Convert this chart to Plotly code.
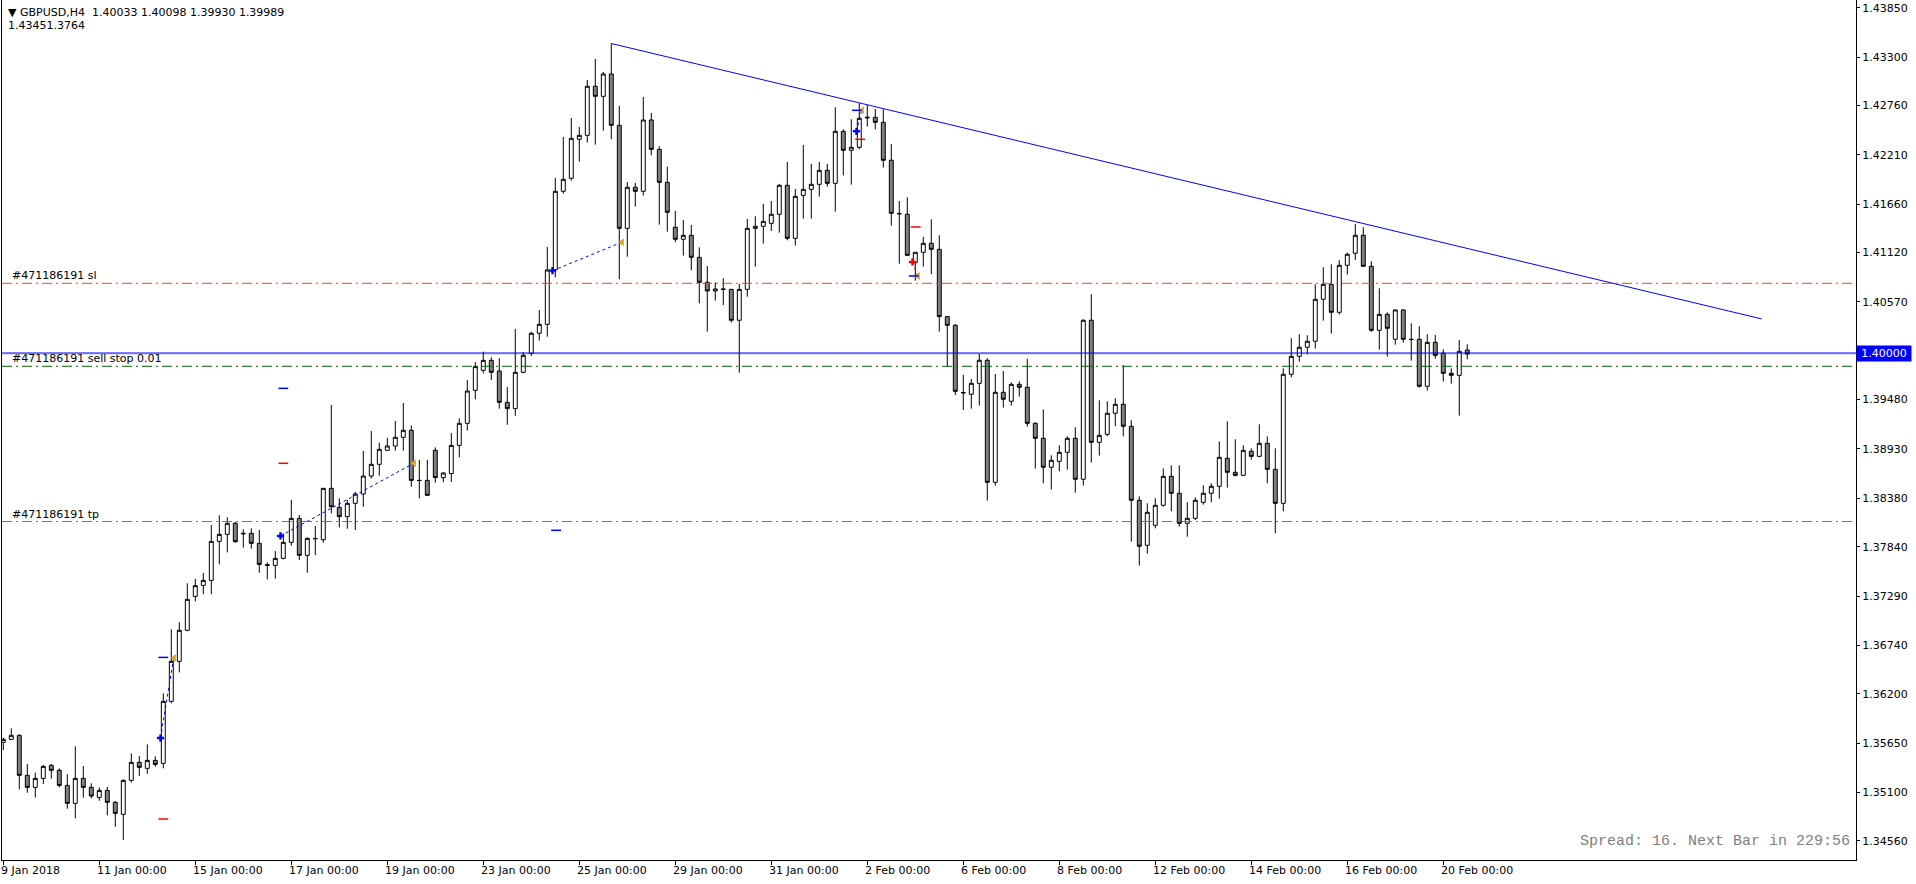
import plotly.graph_objects as go

# ---------------- data ----------------
bars = list(range(184))

opens = [1.35659,1.35692,1.35737,1.35291,1.35157,1.35257,1.35402,1.35347,1.35179,1.34979,
1.35257,1.35157,1.35045,1.35123,1.34990,1.34856,1.35235,1.35436,1.35369,1.35458,
1.35425,1.36116,1.36562,1.36908,1.37287,1.37409,1.37465,1.37900,1.37978,1.38101,
1.37990,1.37989,1.37878,1.37640,1.37632,1.37710,1.37889,1.38156,1.37744,1.37928,
1.37918,1.38491,1.38279,1.38175,1.38324,1.38428,1.38628,1.38759,1.38915,1.38963,
1.39060,1.39138,1.38580,1.38580,1.38915,1.38610,1.38655,1.38970,1.39216,1.39584,
1.39807,1.39918,1.39799,1.39450,1.39380,1.39785,1.39997,1.40220,1.40320,1.40926,
1.41803,1.41948,1.42383,1.42427,1.42974,1.42862,1.43111,1.42539,1.41390,1.41848,
1.41803,1.42598,1.42271,1.41903,1.41402,1.41268,1.41312,1.41067,1.40788,1.40692,
1.40714,1.40710,1.40365,1.40710,1.41390,1.41413,1.41446,1.41547,1.41870,1.41279,
1.41758,1.41825,1.41881,1.42037,1.41892,1.42472,1.42260,1.42294,1.42620,1.42628,
1.42572,1.42149,1.41556,1.41547,1.41008,1.41123,1.41223,1.41156,1.40406,1.40309,
1.39560,1.39540,1.39662,1.39919,1.38558,1.39562,1.39462,1.39651,1.39618,1.39216,
1.39049,1.38726,1.38792,1.38893,1.39049,1.38592,1.40365,1.39004,1.39093,1.39328,
1.39428,1.39183,1.38358,1.37856,1.38079,1.38302,1.38625,1.38436,1.38101,1.38157,
1.38335,1.38436,1.38514,1.38826,1.38670,1.38636,1.38904,1.38848,1.38993,1.38703,
1.38324,1.39763,1.39963,1.40064,1.40131,1.40599,1.40766,1.40454,1.40978,1.41112,
1.41313,1.40967,1.40253,1.40431,1.40153,1.40480,1.40153,1.40153,1.39629,1.40119,
1.39997,1.39774,1.39751,1.40033]

highs = [1.35709,1.35815,1.35748,1.35417,1.35321,1.35406,1.35417,1.35369,1.35302,1.35614,
1.35395,1.35202,1.35157,1.35164,1.35005,1.35246,1.35536,1.35506,1.35636,1.35503,
1.36205,1.36919,1.36997,1.37432,1.37480,1.37547,1.38082,1.38190,1.38168,1.38116,
1.38034,1.38045,1.38026,1.37666,1.37792,1.37989,1.38361,1.38194,1.37945,1.38071,
1.38495,1.39420,1.38379,1.38361,1.38454,1.38907,1.39130,1.39000,1.39056,1.39242,
1.39442,1.39193,1.38807,1.38807,1.38948,1.38670,1.39108,1.39271,1.39699,1.39900,
1.40015,1.39952,1.39941,1.39620,1.40268,1.40008,1.40238,1.40480,1.41182,1.41952,
1.42409,1.42621,1.42520,1.43044,1.43279,1.43134,1.43451,1.42755,1.41907,1.41896,
1.42855,1.42677,1.42305,1.42078,1.41584,1.41483,1.41428,1.41178,1.40970,1.40788,
1.40833,1.40715,1.40770,1.41495,1.41524,1.41662,1.41695,1.41885,1.42130,1.41829,
1.42320,1.42108,1.42130,1.42108,1.42740,1.42494,1.42606,1.42784,1.42766,1.42721,
1.42717,1.42331,1.41695,1.41736,1.41125,1.41294,1.41491,1.41312,1.40410,1.40324,
1.39755,1.39711,1.39989,1.39941,1.39766,1.39800,1.39673,1.39685,1.39934,1.39227,
1.39372,1.38859,1.38971,1.39071,1.39172,1.40376,1.40655,1.39473,1.39462,1.39495,
1.39863,1.39250,1.38402,1.38324,1.38380,1.38714,1.38748,1.38748,1.38335,1.38391,
1.38525,1.38547,1.39015,1.39238,1.39038,1.38971,1.38937,1.39205,1.39071,1.38937,
1.39830,1.40164,1.40209,1.40198,1.40766,1.40956,1.40989,1.41034,1.41119,1.41439,
1.41402,1.41023,1.40722,1.40454,1.40487,1.40487,1.40331,1.40298,1.40209,1.40201,
1.40041,1.39829,1.40145,1.40098]

lows = [1.35573,1.35692,1.35135,1.35097,1.35045,1.35194,1.35254,1.35157,1.34919,1.34811,
1.35042,1.35034,1.35008,1.34845,1.34718,1.34570,1.35209,1.35283,1.35309,1.35387,
1.35369,1.36094,1.36439,1.36897,1.37231,1.37309,1.37309,1.37644,1.37777,1.37885,
1.37829,1.37818,1.37550,1.37476,1.37484,1.37699,1.37852,1.37692,1.37550,1.37748,
1.37885,1.38212,1.38056,1.38041,1.38026,1.38286,1.38602,1.38632,1.38907,1.38911,
1.38911,1.38509,1.38379,1.38410,1.38554,1.38558,1.38562,1.38837,1.39134,1.39483,
1.39773,1.39699,1.39380,1.39200,1.39300,1.39774,1.39967,1.40138,1.40182,1.40844,
1.41777,1.41922,1.42134,1.42346,1.42323,1.42479,1.42383,1.40822,1.41074,1.41632,
1.41755,1.42204,1.41431,1.41353,1.41234,1.41086,1.40922,1.40554,1.40238,1.40584,
1.40535,1.40339,1.39781,1.40628,1.40963,1.41219,1.41361,1.41342,1.41257,1.41197,
1.41498,1.41498,1.41744,1.41855,1.41576,1.41980,1.41877,1.42271,1.42524,1.42494,
1.42067,1.41420,1.40996,1.41085,1.40807,1.40963,1.40878,1.40238,1.39848,1.39532,
1.39365,1.39380,1.39413,1.38354,1.38521,1.39391,1.39413,1.39514,1.39179,1.38711,
1.38547,1.38477,1.38681,1.38700,1.38443,1.38521,1.38778,1.38856,1.39071,1.39183,
1.39071,1.37897,1.37629,1.37763,1.38045,1.38287,1.38235,1.38064,1.37952,1.38138,
1.38309,1.38335,1.38376,1.38499,1.38625,1.38630,1.38811,1.38837,1.38547,1.37990,
1.38235,1.39729,1.39904,1.39986,1.40049,1.40361,1.40216,1.40428,1.40874,1.41037,
1.40960,1.40235,1.40038,1.39960,1.40093,1.40116,1.39915,1.39614,1.39580,1.39937,
1.39681,1.39659,1.39302,1.39930]

closes = [1.35692,1.35737,1.35291,1.35157,1.35257,1.35391,1.35347,1.35179,1.34979,1.35257,
1.35157,1.35060,1.35123,1.34990,1.34867,1.35235,1.35436,1.35380,1.35458,1.35413,
1.36116,1.36562,1.36908,1.37253,1.37406,1.37465,1.37900,1.37978,1.38101,1.37896,
1.37985,1.37878,1.37643,1.37632,1.37710,1.37889,1.38156,1.37744,1.37933,1.37932,
1.38491,1.38286,1.38175,1.38324,1.38428,1.38628,1.38759,1.38926,1.38963,1.39060,
1.39138,1.38580,1.38578,1.38413,1.38610,1.38662,1.38970,1.39216,1.39576,1.39848,
1.39918,1.39785,1.39450,1.39380,1.39785,1.39974,1.40220,1.40320,1.40926,1.41803,
1.41937,1.42394,1.42427,1.42974,1.42862,1.43111,1.42539,1.41390,1.41848,1.41803,
1.42598,1.42271,1.41903,1.41569,1.41268,1.41312,1.41067,1.40788,1.40692,1.40714,
1.40710,1.40365,1.40710,1.41390,1.41413,1.41468,1.41547,1.41870,1.41279,1.41747,
1.41825,1.41881,1.42037,1.41892,1.42472,1.42260,1.42294,1.42617,1.42628,1.42572,
1.42149,1.41558,1.41552,1.41089,1.41123,1.41223,1.41156,1.40406,1.40309,1.39573,
1.39556,1.39662,1.39919,1.38558,1.39562,1.39484,1.39651,1.39618,1.39216,1.39049,
1.38726,1.38804,1.38893,1.39049,1.38592,1.40365,1.39004,1.39082,1.39328,1.39428,
1.39183,1.38358,1.37845,1.38224,1.38302,1.38625,1.38436,1.38101,1.38157,1.38358,
1.38436,1.38514,1.38837,1.38670,1.38636,1.38915,1.38848,1.38993,1.38703,1.38324,
1.39763,1.39963,1.40064,1.40131,1.40599,1.40766,1.40454,1.40978,1.41101,1.41313,
1.40967,1.40253,1.40431,1.40275,1.40480,1.40153,1.40150,1.39629,1.40119,1.39974,
1.39774,1.39751,1.40019,1.39989]

# date labels every 12 bars
date_bars = [0, 12, 24, 36, 48, 60, 72, 84, 96, 108, 120, 132, 144, 156, 168, 180]
date_labels = ["9 Jan 2018", "11 Jan 00:00", "15 Jan 00:00", "17 Jan 00:00", "19 Jan 00:00",
               "23 Jan 00:00", "25 Jan 00:00", "29 Jan 00:00", "31 Jan 00:00", "2 Feb 00:00",
               "6 Feb 00:00", "8 Feb 00:00", "12 Feb 00:00", "14 Feb 00:00", "16 Feb 00:00",
               "20 Feb 00:00"]

price_ticks = [1.43850, 1.43300, 1.42760, 1.42210, 1.41660, 1.41120, 1.40570, 1.39480,
               1.38930, 1.38380, 1.37840, 1.37290, 1.36740, 1.36200, 1.35650, 1.35100, 1.34560]

# order levels
level_sl = 1.40777
level_tp = 1.38121
level_sellstop = 1.39852
level_alert = 1.40000
level_bid = 1.39989

# trendline
trend_bars = [76, 219.8]
trend_prices = [1.43451, 1.40380]

# trade history
trade_open_bar = [20, 35, 69, 107, 114]
trade_open_price = [1.35707, 1.37960, 1.40918, 1.42472, 1.41015]
trade_close_bar = [21, 51, 77, 107, 114]
trade_close_price = [1.36599, 1.38770, 1.41234, 1.42706, 1.40859]
trade_side = ["buy", "buy", "buy", "buy", "sell"]

tp_mark_bar = [20, 35, 69.1, 106.7, 113.8]
tp_mark_price = [1.36606, 1.39606, 1.38023, 1.42706, 1.40859]
sl_mark_bar = [20, 35, 107.1, 114.05]
sl_mark_price = [1.34804, 1.38770, 1.42383, 1.41405]

# ---------------- figure ----------------
FONT = "DejaVu Sans"
fig = go.Figure()

fig.add_trace(go.Candlestick(
    x=bars, open=opens, high=highs, low=lows, close=closes,
    increasing=dict(line=dict(color="black", width=1), fillcolor="white"),
    decreasing=dict(line=dict(color="black", width=1), fillcolor="#808080"),
    whiskerwidth=0, hoverinfo="skip", showlegend=False,
))

# trendline
fig.add_trace(go.Scatter(x=trend_bars, y=trend_prices, mode="lines",
                         line=dict(color="#0000FF", width=1), hoverinfo="skip", showlegend=False))

# trade lines and markers
for ob, op, cb, cp, side in zip(trade_open_bar, trade_open_price, trade_close_bar,
                                trade_close_price, trade_side):
    col = "#0000FF" if side == "buy" else "#FF0000"
    fig.add_trace(go.Scatter(x=[ob - 0.35, cb + 0.3], y=[op, cp], mode="lines",
                             line=dict(color=col, width=1, dash="dot"),
                             hoverinfo="skip", showlegend=False))
    fig.add_trace(go.Scatter(x=[ob - 0.35], y=[op], mode="markers",
                             marker=dict(symbol="cross", size=6, color=col),
                             hoverinfo="skip", showlegend=False))
    fig.add_trace(go.Scatter(x=[cb + 0.35], y=[cp], mode="markers",
                             marker=dict(symbol="triangle-left", size=7, color="#DAA520"),
                             hoverinfo="skip", showlegend=False))

fig.add_trace(go.Scatter(x=tp_mark_bar, y=tp_mark_price, mode="markers",
                         marker=dict(symbol="line-ew", size=7,
                                     line=dict(color="#0000FF", width=1.5)),
                         hoverinfo="skip", showlegend=False))
fig.add_trace(go.Scatter(x=sl_mark_bar, y=sl_mark_price, mode="markers",
                         marker=dict(symbol="line-ew", size=7,
                                     line=dict(color="#FF0000", width=1.5)),
                         hoverinfo="skip", showlegend=False))

# horizontal levels
DASHDOT = "10px,4px,2px,4px"
shapes = [
    dict(type="line", xref="paper", x0=0, x1=1, yref="y", y0=level_bid, y1=level_bid,
         line=dict(color="#C0C0C0", width=1), layer="below"),
    dict(type="line", xref="paper", x0=0, x1=1, yref="y", y0=level_alert, y1=level_alert,
         line=dict(color="#0000FF", width=1)),
    dict(type="line", xref="paper", x0=0, x1=1, yref="y", y0=level_sl, y1=level_sl,
         line=dict(color="#FF4500", width=1, dash=DASHDOT)),
    dict(type="line", xref="paper", x0=0, x1=1, yref="y", y0=level_tp, y1=level_tp,
         line=dict(color="#FF4500", width=1, dash=DASHDOT)),
    dict(type="line", xref="paper", x0=0, x1=1, yref="y", y0=level_sellstop, y1=level_sellstop,
         line=dict(color="#006400", width=1, dash=DASHDOT)),
]

annotations = []
tf = dict(family=FONT, size=11, color="black")
for b, lab in zip(date_bars, date_labels):
    annotations.append(dict(x=b, xref="x", y=0, yref="paper", text=lab, showarrow=False,
                            xanchor="left", yanchor="top", xshift=-4, yshift=-2, font=tf))

for lvl, txt in [(level_sl, "#471186191 sl"), (level_sellstop, "#471186191 sell stop 0.01"),
                 (level_tp, "#471186191 tp")]:
    annotations.append(dict(x=0, xref="paper", y=lvl, yref="y", text=txt, showarrow=False,
                            xanchor="left", yanchor="bottom", xshift=8, yshift=-1, font=tf))

annotations.append(dict(x=1, xref="paper", y=level_alert, yref="y", text="1.40000",
                        showarrow=False, xanchor="left", yanchor="middle", bgcolor="#0000FF",
                        width=52, height=13, borderpad=1, align="center",
                        font=dict(family=FONT, size=11, color="white")))

annotations.append(dict(x=0, xref="paper", y=1, yref="paper",
                        text="▼ GBPUSD,H4\u00a0\u00a01.40033 1.40098 1.39930 1.39989",
                        showarrow=False, xanchor="left", yanchor="top", xshift=4, yshift=-4,
                        font=tf))
annotations.append(dict(x=0, xref="paper", y=1, yref="paper", text="1.43451.3764",
                        showarrow=False, xanchor="left", yanchor="top", xshift=4, yshift=-17,
                        font=tf))
annotations.append(dict(x=1, xref="paper", y=0, yref="paper",
                        text="Spread: 16. Next Bar in 229:56", showarrow=False,
                        xanchor="right", yanchor="bottom", xshift=-4, yshift=8,
                        font=dict(family="Liberation Mono", size=15, color="#808080")))

fig.update_layout(
    width=1916, height=884,
    margin=dict(l=2, r=60, t=0, b=24, pad=0),
    paper_bgcolor="white", plot_bgcolor="white",
    showlegend=False, boxgap=0.3, hovermode=False,
    shapes=shapes, annotations=annotations,
    xaxis=dict(range=[-0.1625, 231.59], rangeslider=dict(visible=False),
               showgrid=False, zeroline=False, showline=True, linecolor="black",
               linewidth=1, mirror=True, tickvals=date_bars, ticks="outside",
               ticklen=4, tickcolor="black", showticklabels=False),
    yaxis=dict(range=[1.34347, 1.43936], side="right", showgrid=False, zeroline=False,
               showline=True, linecolor="black", linewidth=1, mirror=True,
               tickvals=price_ticks, ticktext=[f"{v:.5f}" for v in price_ticks],
               ticks="outside", ticklen=3, tickcolor="black",
               tickfont=dict(family=FONT, size=11, color="black")),
)

fig.write_html("out.html")
